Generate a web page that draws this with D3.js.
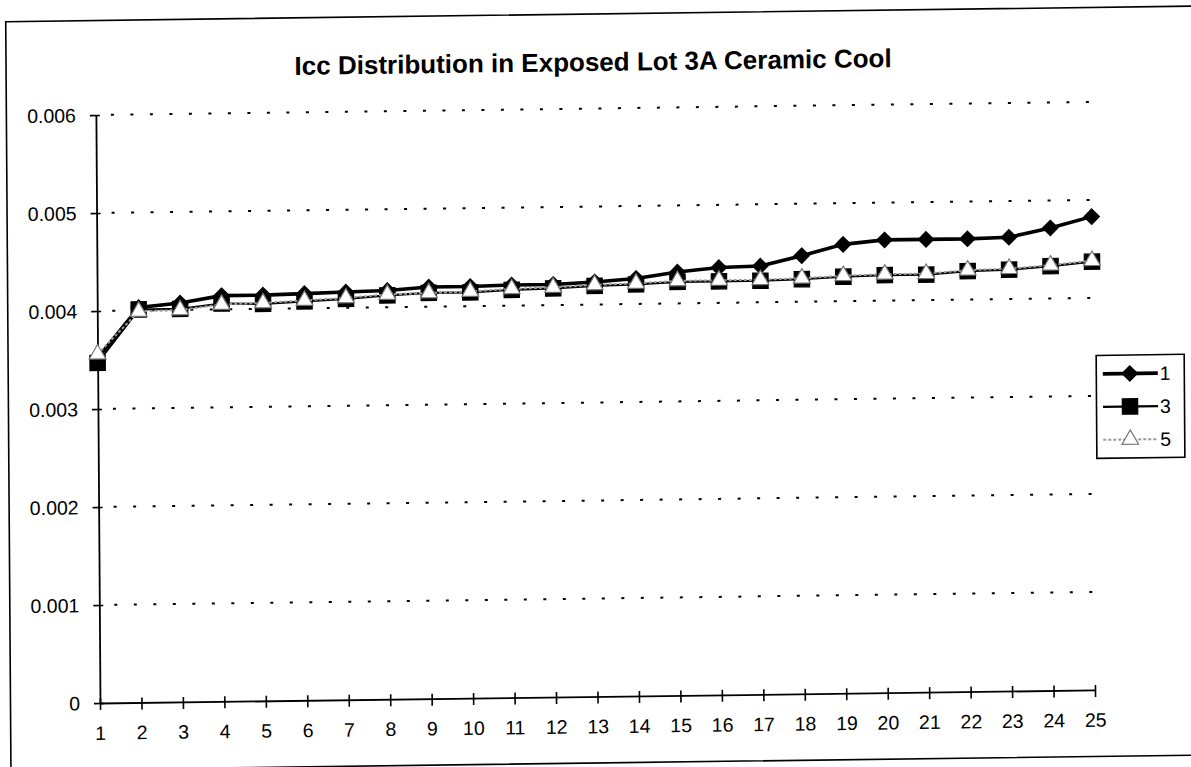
<!DOCTYPE html>
<html>
<head>
<meta charset="utf-8">
<script src="https://cdn.jsdelivr.net/npm/d3@7"></script>
<style>
  html, body { margin: 0; padding: 0; background: #fff; }
  svg { display: block; }
  text { font-family: "Liberation Sans", Arial, sans-serif; fill: #000; }
</style>
</head>
<body>
<svg id="chart" width="1191" height="767"></svg>
<script>
// Sample index along the x axis
const categories = [1, 2, 3, 4, 5, 6, 7, 8, 9, 10, 11, 12, 13, 14, 15, 16, 17, 18, 19, 20, 21, 22, 23, 24, 25];

// Icc readings for each lot position
const series1 = [0.00352, 0.00403, 0.00407, 0.00414, 0.00414, 0.00415, 0.00416, 0.00417, 0.00420, 0.00420,
                 0.00421, 0.00421, 0.00423, 0.00426, 0.00432, 0.00436, 0.00437, 0.00447, 0.00458, 0.00462,
                 0.00462, 0.00462, 0.00463, 0.00472, 0.00483];
const series3 = [0.00347, 0.00401, 0.00401, 0.00406, 0.00405, 0.00407, 0.00409, 0.00412, 0.00414, 0.00414,
                 0.00416, 0.00417, 0.00419, 0.00420, 0.00422, 0.00422, 0.00422, 0.00423, 0.00425, 0.00426,
                 0.00426, 0.00429, 0.00430, 0.00433, 0.00437];
const series5 = [0.00356, 0.00399, 0.00400, 0.00405, 0.00406, 0.00408, 0.00410, 0.00413, 0.00414, 0.00415,
                 0.00417, 0.00418, 0.00420, 0.00421, 0.00423, 0.00423, 0.00423, 0.00424, 0.00426, 0.00427,
                 0.00427, 0.00430, 0.00431, 0.00434, 0.00438];

const seriesNames = ["1", "3", "5"];
const yTicks = [0, 0.001, 0.002, 0.003, 0.004, 0.005, 0.006];
const yTickLabels = ["0", "0.001", "0.002", "0.003", "0.004", "0.005", "0.006"];
const chartTitle = "Icc Distribution in Exposed Lot 3A Ceramic Cool";

const svg = d3.select("#chart");

// plot frame
const plotLeft = 100, plotRight = 1095, plotTop = 115, plotBottom = 703;

// the page sits slightly askew, pivoting on the axis origin
const root = svg.append("g")
  .attr("transform", `translate(${plotLeft},${plotBottom}) matrix(1,-0.0131,0.007,1,0,0) translate(${-plotLeft},${-plotBottom})`);

const x = d3.scalePoint().domain(categories).range([plotLeft, plotRight]);
const y = d3.scaleLinear().domain([0, 0.006]).range([plotBottom, plotTop]);

// outer border
root.append("rect")
  .attr("x", 10.5).attr("y", 20.5).attr("width", 1230).attr("height", 749)
  .attr("fill", "none").attr("stroke", "#000").attr("stroke-width", 1.6);

// title
root.append("text")
  .attr("x", (plotLeft + plotRight) / 2).attr("y", 77.5)
  .attr("text-anchor", "middle")
  .style("font-size", "26px").style("font-weight", "bold")
  .text(chartTitle);

// dotted gridlines
root.append("g").selectAll("line")
  .data(yTicks.filter(d => d > 0))
  .join("line")
  .attr("x1", plotLeft).attr("x2", plotRight)
  .attr("y1", d => y(d)).attr("y2", d => y(d))
  .attr("stroke", "#000").attr("stroke-width", 2)
  .attr("stroke-dasharray", "3,16.5").attr("stroke-dashoffset", 4.5);

// y axis
const yAxis = d3.axisLeft(y).tickValues(yTicks)
  .tickFormat((d, i) => yTickLabels[i]).tickSizeInner(6).tickSizeOuter(0).tickPadding(14);
const gy = root.append("g").attr("transform", `translate(${plotLeft},0)`).call(yAxis);
gy.select(".domain").attr("stroke-width", 1.8);
gy.selectAll(".tick line").attr("x2", 4).attr("x1", -6).attr("stroke-width", 1.6);
gy.selectAll(".tick text").style("font-size", "19.5px").attr("dy", "0.34em");

// x axis
const xAxis = d3.axisBottom(x).tickSizeInner(7).tickSizeOuter(0).tickPadding(16);
const gx = root.append("g").attr("transform", `translate(0,${plotBottom})`).call(xAxis);
gx.select(".domain").attr("stroke-width", 1.8);
gx.selectAll(".tick line").attr("y1", -5).attr("y2", 7).attr("stroke-width", 1.6);
gx.selectAll(".tick text").style("font-size", "19.5px");

const line = d3.line().x((d, i) => x(categories[i])).y(d => y(d));

const diamond = d3.symbol().type(d3.symbolDiamond2).size(150);
const square = d3.symbol().type(d3.symbolSquare).size(235);
const triangle = d3.symbol().type(d3.symbolTriangle).size(120);

const styles = [
  { data: series1, stroke: "#000", width: 3.6, dash: null, sym: diamond, fill: "#000", mstroke: "#000" },
  { data: series3, stroke: "#000", width: 2.2, dash: null, sym: square, fill: "#000", mstroke: "#000" },
  { data: series5, stroke: "#9a9a9a", width: 2, dash: "3,2", sym: triangle, fill: "#fff", mstroke: "#777" }
];

styles.forEach(s => {
  const g = root.append("g");
  g.append("path").datum(s.data)
    .attr("d", line).attr("fill", "none")
    .attr("stroke", s.stroke).attr("stroke-width", s.width)
    .attr("stroke-dasharray", s.dash);
  g.selectAll("path.mark").data(s.data).join("path")
    .attr("class", "mark")
    .attr("transform", (d, i) => `translate(${x(categories[i])},${y(d)})`)
    .attr("d", s.sym).attr("fill", s.fill)
    .attr("stroke", s.mstroke).attr("stroke-width", 1.2);
});

// legend
const lg = root.append("g").attr("transform", "translate(1098,368)");
lg.append("rect").attr("x", 0.5).attr("y", 0.5).attr("width", 88).attr("height", 103)
  .attr("fill", "#fff").attr("stroke", "#000").attr("stroke-width", 1.6);
styles.forEach((s, i) => {
  const cy = 19 + i * 33;
  lg.append("line").attr("x1", 7).attr("x2", 62).attr("y1", cy).attr("y2", cy)
    .attr("stroke", s.stroke).attr("stroke-width", s.width)
    .attr("stroke-dasharray", s.dash);
  lg.append("path").attr("transform", `translate(34,${cy})`)
    .attr("d", s.sym).attr("fill", s.fill).attr("stroke", s.mstroke).attr("stroke-width", 1.2);
  lg.append("text").attr("x", 64).attr("y", cy).attr("dy", "0.36em")
    .style("font-size", "19.5px").text(seriesNames[i]);
});
</script>
</body>
</html>
